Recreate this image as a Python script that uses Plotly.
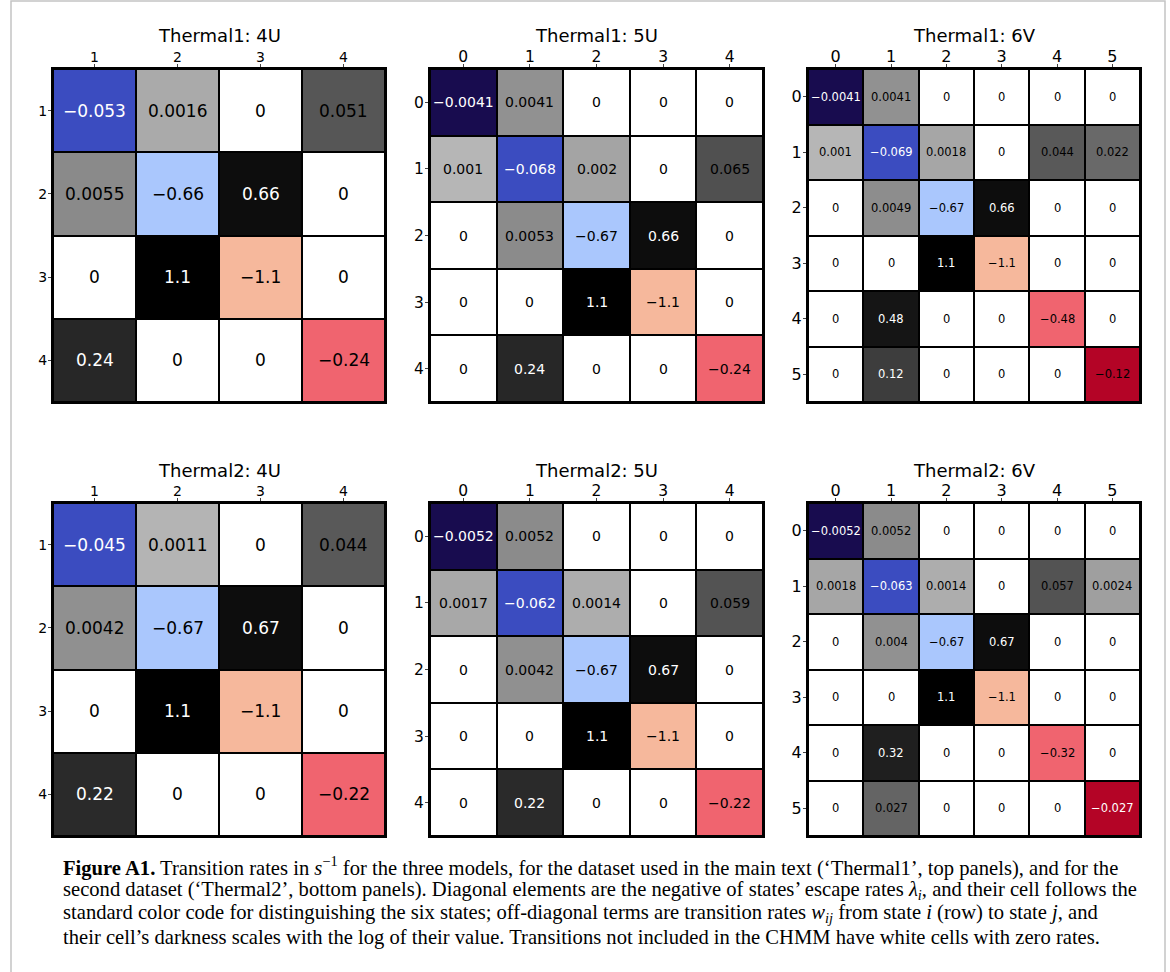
import math
import plotly.graph_objects as go

# ---- state labels for each model ----
labels_4u = ["1", "2", "3", "4"]
labels_5u = ["0", "1", "2", "3", "4"]
labels_6v = ["0", "1", "2", "3", "4", "5"]

# ---- transition-rate matrices (s^-1), row i -> column j ----
rates_t1_4u = [
    [-0.053, 0.0016, 0, 0.051],
    [0.0055, -0.66, 0.66, 0],
    [0, 1.1, -1.1, 0],
    [0.24, 0, 0, -0.24],
]
rates_t1_5u = [
    [-0.0041, 0.0041, 0, 0, 0],
    [0.001, -0.068, 0.002, 0, 0.065],
    [0, 0.0053, -0.67, 0.66, 0],
    [0, 0, 1.1, -1.1, 0],
    [0, 0.24, 0, 0, -0.24],
]
rates_t1_6v = [
    [-0.0041, 0.0041, 0, 0, 0, 0],
    [0.001, -0.069, 0.0018, 0, 0.044, 0.022],
    [0, 0.0049, -0.67, 0.66, 0, 0],
    [0, 0, 1.1, -1.1, 0, 0],
    [0, 0.48, 0, 0, -0.48, 0],
    [0, 0.12, 0, 0, 0, -0.12],
]
rates_t2_4u = [
    [-0.045, 0.0011, 0, 0.044],
    [0.0042, -0.67, 0.67, 0],
    [0, 1.1, -1.1, 0],
    [0.22, 0, 0, -0.22],
]
rates_t2_5u = [
    [-0.0052, 0.0052, 0, 0, 0],
    [0.0017, -0.062, 0.0014, 0, 0.059],
    [0, 0.0042, -0.67, 0.67, 0],
    [0, 0, 1.1, -1.1, 0],
    [0, 0.22, 0, 0, -0.22],
]
rates_t2_6v = [
    [-0.0052, 0.0052, 0, 0, 0, 0],
    [0.0018, -0.063, 0.0014, 0, 0.057, 0.0024],
    [0, 0.004, -0.67, 0.67, 0, 0],
    [0, 0, 1.1, -1.1, 0, 0],
    [0, 0.32, 0, 0, -0.32, 0],
    [0, 0.027, 0, 0, 0, -0.027],
]

titles = ["Thermal1: 4U", "Thermal1: 5U", "Thermal1: 6V",
          "Thermal2: 4U", "Thermal2: 5U", "Thermal2: 6V"]

# standard colour code of the six states (diagonal cells)
state_colors = ["#180c4f", "#3b4cc0", "#aac7fd", "#f6b89c", "#f0646f", "#b40426"]

# sequential grey scale for log10 of off-diagonal rates
greys = [
    [0.0, "rgb(255,255,255)"], [0.125, "rgb(240,240,240)"],
    [0.25, "rgb(217,217,217)"], [0.375, "rgb(189,189,189)"],
    [0.5, "rgb(150,150,150)"], [0.625, "rgb(115,115,115)"],
    [0.75, "rgb(82,82,82)"], [0.875, "rgb(37,37,37)"],
    [1.0, "rgb(0,0,0)"],
]
LOG_MIN = -5.0
LOG_MAX = math.log10(1.1)

W, H = 1170, 972
col_px = [(53, 385), (430, 763), (808, 1140)]
row_px = [(69, 402), (503, 836)]

panels = [
    (labels_4u, rates_t1_4u, 17, 14),
    (labels_5u, rates_t1_5u, 14, 15.5),
    (labels_6v, rates_t1_6v, 11.5, 16),
    (labels_4u, rates_t2_4u, 17, 14),
    (labels_5u, rates_t2_5u, 14, 15.5),
    (labels_6v, rates_t2_6v, 11.5, 16),
]

FONT = "DejaVu Sans"
fig = go.Figure()
annotations = []
layout_axes = {}

diag_scale = [[k / 5, c] for k, c in enumerate(state_colors)]


def fmt(v):
    return f"{v:.2g}".replace("-", "\u2212")


for p, (labels, rates, cell_fs, tick_fs) in enumerate(panels):
    n = len(labels)
    r, c = divmod(p, 3)
    k = p + 1
    xa, ya = f"x{k}", f"y{k}"
    idx = list(range(n))

    # white base layer for every cell (gaps reveal the black grid)
    fig.add_trace(go.Heatmap(
        z=[[0] * n for _ in range(n)], x=idx, y=idx,
        colorscale=[[0, "white"], [1, "white"]], zmin=0, zmax=1,
        showscale=False, xgap=2, ygap=2, hoverinfo="skip",
        xaxis=xa, yaxis=ya))

    # off-diagonal rates, grey by log10(value)
    z_off = [[(math.log10(rates[i][j]) if (i != j and rates[i][j] > 0) else None)
              for j in range(n)] for i in range(n)]
    fig.add_trace(go.Heatmap(
        z=z_off, x=idx, y=idx, colorscale=greys, zmin=LOG_MIN, zmax=LOG_MAX,
        showscale=False, xgap=2, ygap=2, hoverinfo="skip",
        xaxis=xa, yaxis=ya))

    # diagonal cells coloured by state
    z_diag = [[(int(labels[i]) if i == j else None) for j in range(n)] for i in range(n)]
    fig.add_trace(go.Heatmap(
        z=z_diag, x=idx, y=idx, colorscale=diag_scale, zmin=0, zmax=5,
        showscale=False, xgap=2, ygap=2, hoverinfo="skip",
        xaxis=xa, yaxis=ya))

    # value labels
    for i in range(n):
        for j in range(n):
            v = rates[i][j]
            if i == j:
                color = "#ffffff" if abs(v) < 0.1 else "#000000"
            else:
                color = "#ffffff" if v > 0.1 else "#000000"
            annotations.append(dict(
                x=j, y=i, xref=xa, yref=ya, text=fmt(v), showarrow=False,
                font=dict(family=FONT, size=cell_fs, color=color)))

    x0, x1 = col_px[c]
    y0, y1 = row_px[r]
    axis_common = dict(
        showgrid=False, zeroline=False, showline=True, mirror=True,
        linecolor="black", linewidth=2, ticks="outside", ticklen=3,
        tickwidth=1, tickcolor="#444444", tickvals=idx, ticktext=labels,
        tickfont=dict(family=FONT, size=tick_fs, color="black"),
        fixedrange=True)
    layout_axes[f"xaxis{k}"] = dict(
        axis_common, domain=[x0 / W, x1 / W], range=[-0.5, n - 0.5],
        side="top", anchor=ya, ticklabelstandoff=-4)
    layout_axes[f"yaxis{k}"] = dict(
        axis_common, domain=[1 - y1 / H, 1 - y0 / H], range=[n - 0.5, -0.5],
        anchor=xa, ticklabelstandoff=-2)

    # panel title
    annotations.append(dict(
        x=(x0 + x1) / 2 / W, y=1 - (y0 - 33) / H, xref="paper", yref="paper",
        text=titles[p], showarrow=False, xanchor="center", yanchor="middle",
        font=dict(family=FONT, size=18, color="black")))

caption_lines = [
    "<b>Figure A1.</b> Transition rates in <i>s</i><sup>\u22121</sup> for the three models, "
    "for the dataset used in the main text (\u2018Thermal1\u2019, top panels), and for the",
    "second dataset (\u2018Thermal2\u2019, bottom panels). Diagonal elements are the negative "
    "of states\u2019 escape rates <i>\u03bb<sub>i</sub></i>, and their cell follows the",
    "standard color code for distinguishing the six states; off-diagonal terms are transition "
    "rates <i>w<sub>ij</sub></i> from state <i>i</i> (row) to state <i>j</i>, and",
    "their cell\u2019s darkness scales with the log of their value. Transitions not included "
    "in the CHMM have white cells with zero rates.",
]
caption_y = [866, 890, 913, 937]
for line, yc in zip(caption_lines, caption_y):
    annotations.append(dict(
        x=61 / W, y=1 - yc / H, xref="paper", yref="paper", text=line,
        showarrow=False, xanchor="left", yanchor="middle", align="left",
        font=dict(family="Liberation Serif", size=20.6, color="black")))

fig.update_layout(
    width=W, height=H, margin=dict(l=0, r=0, t=0, b=0),
    paper_bgcolor="white", plot_bgcolor="black",
    showlegend=False, annotations=annotations,
    shapes=[dict(type="rect", xref="paper", yref="paper",
                 x0=11 / W, x1=1165 / W, y0=-0.02, y1=1 - 1 / H,
                 line=dict(color="#c4c4c4", width=1.5), fillcolor="rgba(0,0,0,0)",
                 layer="below")],
    **layout_axes,
)

fig.write_html("out.html")
